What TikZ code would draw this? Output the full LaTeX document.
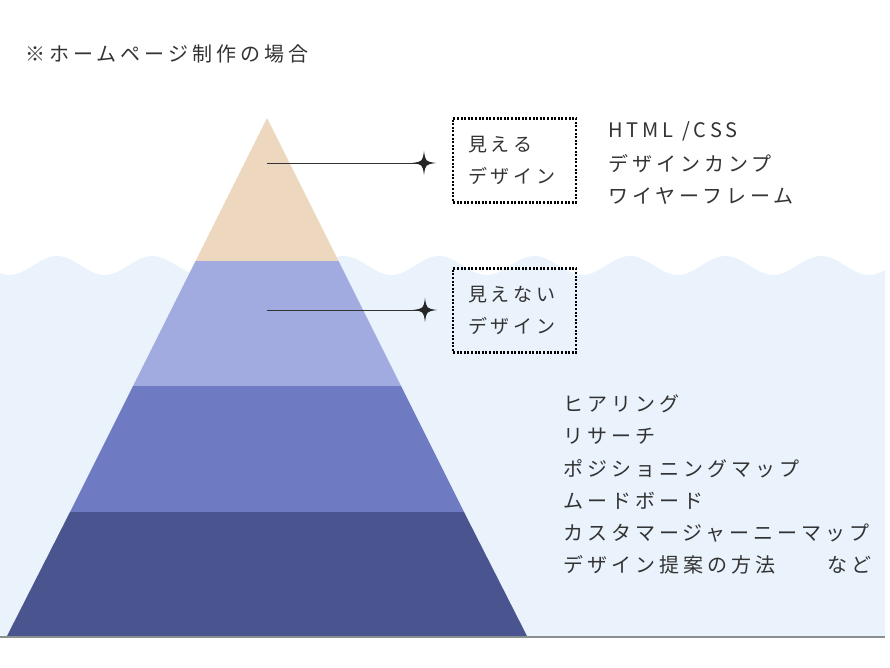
\documentclass[tikz,border=0pt]{standalone}
\usepackage{fontspec}
\setmainfont{Noto Sans CJK JP}[LetterSpace=20]
\definecolor{water}{HTML}{EAF3FC}
\definecolor{tanc}{HTML}{EDD8BF}
\definecolor{lav}{HTML}{A2ABE0}
\definecolor{midb}{HTML}{6E7AC2}
\definecolor{darkb}{HTML}{4A5590}
\definecolor{txt}{HTML}{333333}
\definecolor{groundc}{HTML}{8A9090}
\tikzset{
  lbl/.style={anchor=west, inner sep=0pt, text=txt, font=\fontsize{20}{24}\selectfont},
  dotbox/.style={draw=black, line width=2.2pt, dash pattern=on 2pt off 1.6pt,
    minimum width=123pt, minimum height=84pt, align=left, text width=93pt,
    inner xsep=15pt, text=txt, font=\fontsize{19}{32}\selectfont},
  leader/.style={draw=txt, line width=0.8pt},
  sparkle/.style={fill=black!85}
}
\begin{document}
\begin{tikzpicture}[x=1pt,y=-1pt]
\useasboundingbox (0,0) rectangle (890,668);
\fill[white] (0,0) rectangle (890,668);
% water
\fill[water] (0,636) -- plot[domain=0:885,samples=240] (\x,{265.5-9.5*cos(3.7696*(\x-630))}) -- (885,636) -- cycle;
% pyramid
\fill[tanc] (267,118) -- (338.5,261) -- (195.5,261) -- cycle;
\fill[lav] (195.5,261) -- (338.5,261) -- (401,386) -- (133,386) -- cycle;
\fill[midb] (133,386) -- (401,386) -- (464,512) -- (70,512) -- cycle;
\fill[darkb] (70,512) -- (464,512) -- (527.5,637) -- (6.5,637) -- cycle;
% ground line
\draw[groundc, line width=2pt] (0,636.5) -- (885,636.5);
% title
\node[lbl] (title) at (25,54) {※ホームページ制作の場合};
% leaders and sparkles
\coordinate (p1) at (267,163);
\coordinate (s1) at (424,163);
\coordinate (p2) at (267,310);
\coordinate (s2) at (425,310);
\draw[leader] (p1) -- (s1);
\draw[leader] (p2) -- (s2);
\fill[sparkle, shift={(s1)}] (0,-12) .. controls (1.5,-1.5) .. (12,0) .. controls (1.5,1.5) .. (0,12) .. controls (-1.5,1.5) .. (-12,0) .. controls (-1.5,-1.5) .. cycle;
\fill[sparkle, shift={(s2)}] (0,-12) .. controls (1.5,-1.5) .. (12,0) .. controls (1.5,1.5) .. (0,12) .. controls (-1.5,1.5) .. (-12,0) .. controls (-1.5,-1.5) .. cycle;
% boxes
\node[dotbox] (b1) at (514.5,160.5) {見える\\デザイン};
\node[dotbox] (b2) at (514.5,310.5) {見えない\\デザイン};
% visible list
\node[lbl] (v1) at (608,131) {HTML /CSS};
\node[lbl] (v2) at (608,163.5) {デザインカンプ};
\node[lbl] (v3) at (608,196) {ワイヤーフレーム};
% invisible list
\node[lbl] (i1) at (563,404) {ヒアリング};
\node[lbl] (i2) at (563,436.5) {リサーチ};
\node[lbl] (i3) at (563,468.5) {ポジショニングマップ};
\node[lbl] (i4) at (563,500.5) {ムードボード};
\node[lbl] (i5) at (563,533) {カスタマージャーニーマップ};
\node[lbl] (i6) at (563,565) {デザイン提案の方法　　など};
\end{tikzpicture}
\end{document}
